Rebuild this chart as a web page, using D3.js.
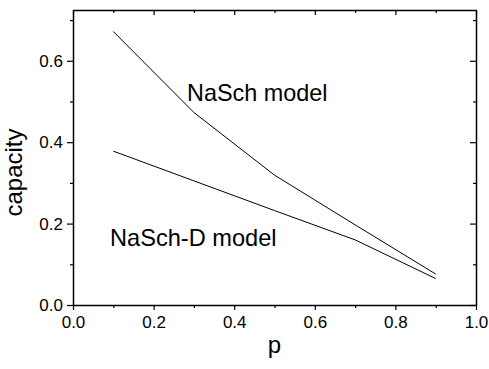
<!DOCTYPE html>
<html><head><meta charset="utf-8">
<script src="https://cdn.jsdelivr.net/npm/d3@7"></script>
<style>body{margin:0;background:#fff}svg{display:block}text{font-family:"Liberation Sans",Arial,sans-serif;fill:#000}</style>
</head><body>
<script>
const pValues = [0.1, 0.3, 0.5, 0.7, 0.9];
const naschCapacity = [0.672, 0.473, 0.319, 0.197, 0.076];
const naschDCapacity = [0.378, 0.305, 0.232, 0.160, 0.065];
const xTicks = [0.0, 0.2, 0.4, 0.6, 0.8, 1.0];
const yTicks = [0.0, 0.2, 0.4, 0.6];
const xMinor = [0.1, 0.3, 0.5, 0.7, 0.9];
const yMinor = [0.1, 0.3, 0.5, 0.7];

const W = 489, H = 369;
const svg = d3.select("body").append("svg").attr("width", W).attr("height", H);
const x = d3.scaleLinear().domain([0, 1]).range([73, 476]);
const y = d3.scaleLinear().domain([0, 0.725]).range([305, 9.9]);

const fmt = d3.format(".1f");
svg.append("g").attr("transform", `translate(0,${y(0)})`)
  .call(d3.axisBottom(x).tickValues(xTicks).tickFormat(fmt).tickSize(5).tickPadding(6).tickSizeOuter(0));
svg.append("g").attr("transform", `translate(0,${y(0)})`)
  .call(d3.axisBottom(x).tickValues(xMinor).tickFormat("").tickSize(3).tickSizeOuter(0))
  .select(".domain").remove();
svg.append("g").attr("transform", `translate(${x(0)},0)`)
  .call(d3.axisLeft(y).tickValues(yTicks).tickFormat(fmt).tickSize(6).tickPadding(4).tickSizeOuter(0));
svg.append("g").attr("transform", `translate(${x(0)},0)`)
  .call(d3.axisLeft(y).tickValues(yMinor).tickFormat("").tickSize(3).tickSizeOuter(0))
  .select(".domain").remove();
svg.append("g").attr("transform", `translate(0,${y.range()[1]})`)
  .call(d3.axisTop(x).tickValues(xTicks).tickFormat("").tickSize(-5).tickSizeOuter(0));
svg.append("g").attr("transform", `translate(0,${y.range()[1]})`)
  .call(d3.axisTop(x).tickValues(xMinor).tickFormat("").tickSize(-3).tickSizeOuter(0))
  .select(".domain").remove();
svg.append("g").attr("transform", `translate(${x(1)},0)`)
  .call(d3.axisRight(y).tickValues(yTicks).tickFormat("").tickSize(-6).tickSizeOuter(0));
svg.append("g").attr("transform", `translate(${x(1)},0)`)
  .call(d3.axisRight(y).tickValues(yMinor).tickFormat("").tickSize(-3).tickSizeOuter(0))
  .select(".domain").remove();

svg.selectAll(".domain").attr("stroke", "#000").attr("stroke-width", 1.5);
svg.selectAll(".tick line").attr("stroke", "#000").attr("stroke-width", 1.2);
svg.selectAll(".tick text").style("font-size", "17px").attr("fill", "#000");

const line = d3.line().x((d, i) => x(pValues[i])).y(d => y(d));
svg.append("path").datum(naschCapacity).attr("d", line)
  .attr("fill", "none").attr("stroke", "#000").attr("stroke-width", 1);
svg.append("path").datum(naschDCapacity).attr("d", line)
  .attr("fill", "none").attr("stroke", "#000").attr("stroke-width", 1);

svg.append("text").attr("x", 187).attr("y", 101).style("font-size", "23.4px").text("NaSch model");
svg.append("text").attr("x", 110).attr("y", 246).style("font-size", "23.6px").text("NaSch-D model");

svg.append("text").attr("x", x(0.5)).attr("y", 353).attr("text-anchor", "middle")
  .style("font-size", "24px").text("p");
svg.append("text").attr("transform", `translate(22,172.5) rotate(-90)`).attr("text-anchor", "middle")
  .style("font-size", "24px").text("capacity");
</script>
</body></html>
